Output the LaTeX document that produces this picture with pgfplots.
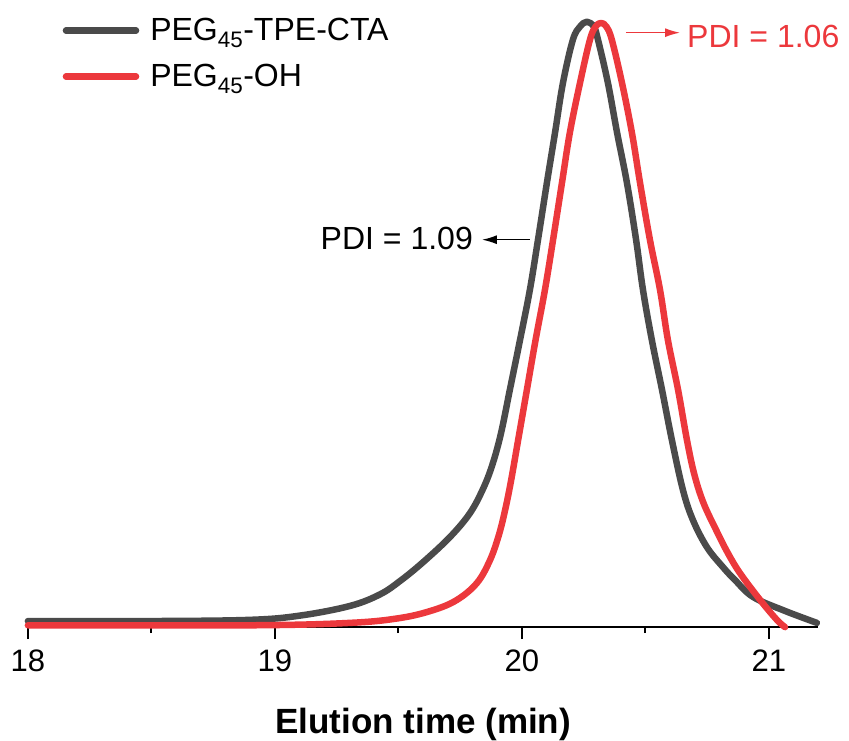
\documentclass[border=0pt]{standalone}
\usepackage{pgfplots}
\pgfplotsset{compat=1.18}
\usetikzlibrary{arrows.meta}
\usepackage{fontspec}
\setmainfont{Liberation Sans}
\definecolor{cgray}{RGB}{74,74,74}
\definecolor{cred}{RGB}{236,56,60}
\begin{document}
\begin{tikzpicture}
\begin{axis}[
  scale only axis, width=790pt, height=627pt,
  xmin=18, xmax=21.2, ymin=0, ymax=1.0364,
  axis x line=bottom, axis y line=none,
  x axis line style={-, line width=2pt},
  xtick={18,19,20,21}, minor xtick={18.5,19.5,20.5},
  tick align=outside,
  major tick length=12pt, minor tick length=6pt,
  every tick/.style={black, line width=2pt},
  tick label style={font=\fontsize{31}{36}\selectfont},
  /pgf/number format/assume math mode=true,
  xticklabel style={yshift=-7pt},
  xlabel={\textbf{Elution time (min)}},
  xlabel style={font=\fontsize{35}{40}\selectfont, yshift=-30pt},
  clip=false,
  legend style={at={(rel axis cs:0.040,0.975)}, anchor=north west, draw=none, fill=none,
    font=\fontsize{32}{36}\selectfont, row sep=20pt,
    nodes={inner sep=1pt}},
  legend cell align=left,
  legend image code/.code={\draw[#1] (0pt,0pt) -- (70pt,0pt); \path (80pt,0pt);},
]
\addplot[cgray, line width=6.5pt, line join=round, line cap=round, smooth, tension=0.6] coordinates {
(18.000,0.010) (18.494,0.010) (18.899,0.012) (19.101,0.019) (19.304,0.035) (19.425,0.054)
(19.506,0.076) (19.599,0.107) (19.709,0.149) (19.789,0.188) (19.842,0.228) (19.880,0.268)
(19.915,0.320) (19.951,0.392) (19.992,0.474) (20.032,0.557) (20.065,0.640) (20.101,0.734)
(20.134,0.817) (20.166,0.899) (20.206,0.970) (20.235,0.992) (20.263,1.000) (20.291,0.992)
(20.308,0.970) (20.348,0.899) (20.385,0.817) (20.425,0.734) (20.462,0.640) (20.490,0.557)
(20.526,0.474) (20.567,0.392) (20.607,0.309) (20.652,0.226) (20.692,0.177) (20.749,0.132)
(20.814,0.099) (20.862,0.078) (20.935,0.050) (21.057,0.028) (21.194,0.007)
};
\addlegendentry{PEG$_{\mathrm{45}}$-TPE-CTA}
\addplot[cred, line width=6.5pt, line join=round, line cap=round, smooth, tension=0.6] coordinates {
(18.000,0.003) (18.899,0.003) (19.304,0.007) (19.506,0.015) (19.640,0.028) (19.737,0.045)
(19.818,0.073) (19.870,0.110) (19.905,0.150) (19.930,0.190) (19.955,0.240) (19.985,0.310)
(20.020,0.392) (20.055,0.474) (20.093,0.557) (20.126,0.640) (20.162,0.734) (20.194,0.817)
(20.235,0.899) (20.275,0.970) (20.298,0.992) (20.320,0.998) (20.342,0.992) (20.364,0.970)
(20.405,0.899) (20.445,0.817) (20.478,0.734) (20.518,0.640) (20.559,0.557) (20.591,0.474)
(20.632,0.392) (20.668,0.309) (20.698,0.252) (20.735,0.205) (20.789,0.158) (20.834,0.122)
(20.883,0.089) (20.964,0.045) (21.032,0.012) (21.065,0.000)
};
\addlegendentry{PEG$_{\mathrm{45}}$-OH}
\draw[cred, line width=1.5pt, -{Latex[length=15pt,width=9pt]}] (axis cs:20.421,0.982) -- (axis cs:20.640,0.982);
\node[cred, anchor=west, inner sep=0pt, font=\fontsize{32}{36}\selectfont] at (axis cs:20.668,0.975) {PDI = 1.06};
\draw[black, line width=1.5pt, -{Latex[length=15pt,width=9pt]}] (axis cs:20.032,0.640) -- (axis cs:19.838,0.640);
\node[black, anchor=east, inner sep=0pt, font=\fontsize{32}{36}\selectfont] at (axis cs:19.802,0.642) {PDI = 1.09};
\coordinate (bbsw) at (axis cs:17.887,-0.187);
\coordinate (bbne) at (axis cs:21.324,1.036);
\end{axis}
\pgfresetboundingbox
\path (bbsw) rectangle (bbne);
\end{tikzpicture}
\end{document}
